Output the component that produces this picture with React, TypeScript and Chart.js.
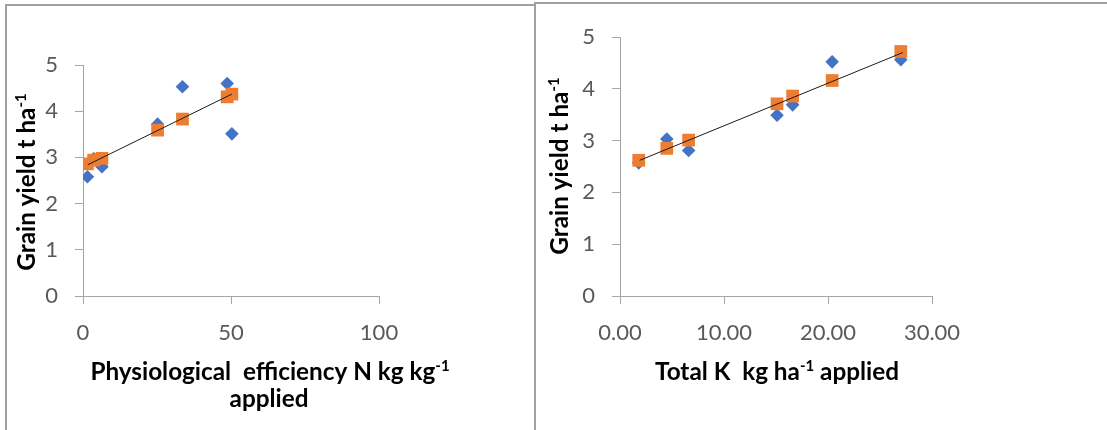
import React, { useEffect, useRef } from "react";
import { Chart, registerables } from "chart.js";
Chart.register(...registerables);

// ---------- data: left panel (physiological efficiency N) ----------
const nEfficiency = [1.5, 3.6, 6.4, 25.2, 33.6, 48.7, 50.3];
const nObservedYield = [2.58, 2.97, 2.8, 3.72, 4.53, 4.6, 3.51];
const nPredictedYield = [2.86, 2.94, 2.98, 3.59, 3.83, 4.31, 4.37];
const nTrendX = [1.6, 50.3];
const nTrendY = [2.84, 4.37];
const nXTicks = [0, 50, 100];

// ---------- data: right panel (total K applied) ----------
const kApplied = [1.8, 4.5, 6.6, 15.1, 16.6, 20.4, 27.0];
const kObservedYield = [2.57, 3.03, 2.81, 3.49, 3.69, 4.52, 4.56];
const kPredictedYield = [2.62, 2.85, 3.01, 3.71, 3.86, 4.16, 4.72];
const kTrendX = [1.9, 27.2];
const kTrendY = [2.62, 4.7];
const kXTicks = [0, 10, 20, 30];

const yTicks = [0, 1, 2, 3, 4, 5];

type Seg = { t: string; sup?: boolean };
type RichTitle = { segs: Seg[]; x: number; y: number; rotate?: boolean; size: number };

const FAMILY = "Lato";
const AXIS_GRAY = "#a6a6a6";
const TICK_TEXT = "#595959";

function drawRich(ctx: CanvasRenderingContext2D, item: RichTitle) {
  const { segs, x, y, rotate, size } = item;
  const main = `bold ${size}px ${FAMILY}`;
  const supSize = Math.round(size * 0.62);
  const sup = `bold ${supSize}px ${FAMILY}`;
  let total = 0;
  const widths = segs.map((s) => {
    ctx.font = s.sup ? sup : main;
    const w = ctx.measureText(s.t).width;
    total += w;
    return w;
  });
  ctx.save();
  ctx.translate(x, y);
  if (rotate) ctx.rotate(-Math.PI / 2);
  ctx.fillStyle = "#000";
  ctx.textBaseline = "alphabetic";
  ctx.textAlign = "left";
  let cx = -total / 2;
  segs.forEach((s, i) => {
    ctx.font = s.sup ? sup : main;
    ctx.fillText(s.t, cx, s.sup ? -size * 0.36 : 0);
    cx += widths[i];
  });
  ctx.restore();
}

type PanelCfg = {
  xs: number[];
  observed: number[];
  predicted: number[];
  trendX: number[];
  trendY: number[];
  xTicks: number[];
  xMax: number;
  xFormat: (v: number) => string;
  width: number;
  height: number;
  area: { left: number; right: number; top: number; bottom: number };
  titles: RichTitle[];
};

function ScatterPanel({ cfg, left, top }: { cfg: PanelCfg; left: number; top: number }) {
  const ref = useRef<HTMLCanvasElement>(null);
  useEffect(() => {
    if (!ref.current) return;
    const titles = cfg.titles;
    const chart = new Chart(ref.current, {
      type: "scatter",
      data: {
        datasets: [
          {
            label: "trend",
            data: cfg.trendX.map((x, i) => ({ x, y: cfg.trendY[i] })),
            showLine: true,
            borderColor: "#1a1a1a",
            borderWidth: 1,
            pointRadius: 0,
            order: 0,
          },
          {
            label: "predicted",
            data: cfg.xs.map((x, i) => ({ x, y: cfg.predicted[i] })),
            pointStyle: "rect",
            pointRadius: 9,
            pointBorderWidth: 0,
            backgroundColor: "#ED7D31",
            borderColor: "#ED7D31",
            order: 1,
          },
          {
            label: "observed",
            data: cfg.xs.map((x, i) => ({ x, y: cfg.observed[i] })),
            pointStyle: "rectRot",
            pointRadius: 6.8,
            pointBorderWidth: 0,
            backgroundColor: "#4472C4",
            borderColor: "#4472C4",
            order: 2,
          },
        ],
      },
      options: {
        animation: false,
        responsive: false,
        events: [],
        layout: {
          padding: {
            left: 0,
            top: cfg.area.top,
            right: cfg.width - cfg.area.right,
            bottom: 0,
          },
        },
        plugins: { legend: { display: false }, tooltip: { enabled: false } },
        scales: {
          x: {
            type: "linear",
            min: 0,
            max: cfg.xMax,
            afterBuildTicks: (s: any) => {
              s.ticks = cfg.xTicks.map((v) => ({ value: v }));
            },
            afterFit: (s: any) => {
              s.height = cfg.height - cfg.area.bottom;
            },
            ticks: {
              color: TICK_TEXT,
              font: { family: FAMILY, size: 22 },
              padding: 16,
              maxRotation: 0,
              callback: (v: any) => cfg.xFormat(Number(v)),
            },
            grid: { drawOnChartArea: false, drawTicks: true, tickLength: 8, color: AXIS_GRAY },
            border: { color: AXIS_GRAY, width: 1 },
          },
          y: {
            type: "linear",
            min: 0,
            max: 5,
            afterBuildTicks: (s: any) => {
              s.ticks = yTicks.map((v) => ({ value: v }));
            },
            afterFit: (s: any) => {
              s.width = cfg.area.left;
            },
            ticks: {
              color: TICK_TEXT,
              font: { family: FAMILY, size: 22 },
              padding: 17,
            },
            grid: { drawOnChartArea: false, drawTicks: true, tickLength: 8, color: AXIS_GRAY },
            border: { color: AXIS_GRAY, width: 1 },
          },
        },
      },
      plugins: [
        {
          id: "richTitles",
          afterDraw(c: any) {
            titles.forEach((t) => drawRich(c.ctx, t));
          },
        },
      ],
    } as any);
    return () => chart.destroy();
  }, [cfg]);
  return (
    <canvas
      ref={ref}
      width={cfg.width}
      height={cfg.height}
      style={{ position: "absolute", left, top, width: cfg.width, height: cfg.height }}
    />
  );
}

const TITLE_SIZE = 24.3;

const leftCfg: PanelCfg = {
  xs: nEfficiency,
  observed: nObservedYield,
  predicted: nPredictedYield,
  trendX: nTrendX,
  trendY: nTrendY,
  xTicks: nXTicks,
  xMax: 100,
  xFormat: (v) => String(v),
  width: 533,
  height: 430,
  area: { left: 83, right: 379, top: 65, bottom: 296 },
  titles: [
    {
      segs: [{ t: "Physiological  efficiency N kg kg" }, { t: "-1", sup: true }],
      x: 270,
      y: 380,
      size: TITLE_SIZE,
    },
    { segs: [{ t: "applied" }], x: 269, y: 407, size: TITLE_SIZE },
    {
      segs: [{ t: "Grain yield t ha" }, { t: "-1", sup: true }],
      x: 35,
      y: 182,
      rotate: true,
      size: TITLE_SIZE,
    },
  ],
};

const rightCfg: PanelCfg = {
  xs: kApplied,
  observed: kObservedYield,
  predicted: kPredictedYield,
  trendX: kTrendX,
  trendY: kTrendY,
  xTicks: kXTicks,
  xMax: 30,
  xFormat: (v) => v.toFixed(2),
  width: 569,
  height: 430,
  area: { left: 84, right: 396, top: 37, bottom: 296 },
  titles: [
    {
      segs: [{ t: "Total K  kg ha" }, { t: "-1", sup: true }, { t: " applied" }],
      x: 241,
      y: 380,
      size: TITLE_SIZE,
    },
    {
      segs: [{ t: "Grain yield t ha" }, { t: "-1", sup: true }],
      x: 32,
      y: 166,
      rotate: true,
      size: TITLE_SIZE,
    },
  ],
};

export default function App() {
  return (
    <div
      style={{
        position: "absolute",
        left: 0,
        top: 0,
        width: 1107,
        height: 430,
        overflow: "hidden",
        background: "#fff",
      }}
    >
      <div
        style={{
          position: "absolute",
          left: 5,
          top: 4,
          width: 531,
          height: 460,
          border: "2px solid #a0a0a0",
          boxSizing: "border-box",
        }}
      />
      <div
        style={{
          position: "absolute",
          left: 534,
          top: 2,
          width: 600,
          height: 460,
          border: "2px solid #a0a0a0",
          boxSizing: "border-box",
        }}
      />
      <ScatterPanel cfg={leftCfg} left={0} top={0} />
      <ScatterPanel cfg={rightCfg} left={536} top={0} />
    </div>
  );
}
